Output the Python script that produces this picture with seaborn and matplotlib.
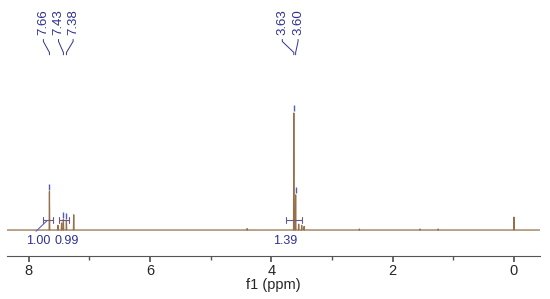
import numpy as np
import matplotlib.pyplot as plt
import matplotlib.transforms as mtransforms
import seaborn as sns
import pandas as pd

sns.set_theme(style="white")
plt.rcParams['font.family'] = ['Liberation Sans', 'DejaVu Sans']

# Spectrum peaks (ppm, relative intensity)
peak_ppm = [7.66, 7.52, 7.46, 7.43, 7.38, 7.26, 4.40, 3.63, 3.60, 3.55, 3.50, 3.46, 2.55, 1.55, 1.25, 0.00]
peak_height = [0.33, 0.04, 0.06, 0.09, 0.08, 0.13, 0.012, 1.00, 0.30, 0.05, 0.04, 0.03, 0.008, 0.008, 0.008, 0.11]

# Peak-pick labels
label_ppm = [7.66, 7.43, 7.38, 3.63, 3.60]
label_text = ['7.66', '7.43', '7.38', '3.63', '3.60']
label_x = [7.76, 7.51, 7.27, 3.82, 3.56]

# Integrals
int_start = [7.77, 7.51, 3.76]
int_end = [7.60, 7.33, 3.50]
int_value = ['1.00', '0.99', '1.39']
int_label_x = [7.85, 7.38, 3.77]

xlim = (8.36, -0.43)

# stick spectrum: baseline with each peak as a narrow spike
xs, ys = [xlim[0]], [0.0]
for p, h in sorted(zip(peak_ppm, peak_height), reverse=True):
    xs += [p + 0.005, p, p - 0.005]
    ys += [0.0, h, 0.0]
xs.append(xlim[1])
ys.append(0.0)
df = pd.DataFrame({'ppm': xs, 'intensity': ys})

fig = plt.figure(figsize=(5.5, 2.99), dpi=100)
ax = fig.add_axes([7 / 550, 43 / 299, 533 / 550, 256 / 299])

line_col = '#95704A'
blue = '#2E3192'
sns.lineplot(data=df, x='ppm', y='intensity', sort=False, color=line_col, lw=0.9, ax=ax)

ax.set_xlim(*xlim)
ax.set_ylim(-0.222, 1.966)

# peak pick markers
for p in label_ppm:
    h = peak_height[peak_ppm.index(p)]
    ax.plot([p], [h + 0.04], marker='|', color='#5060B0', ms=5, mew=1)

# peak labels with connectors
trans = mtransforms.blended_transform_factory(ax.transData, ax.transAxes)
for lx, p, t in zip(label_x, label_ppm, label_text):
    ax.text(lx, 0.862, t, rotation=90, ha='center', va='bottom', fontsize=9.5,
            color=blue, transform=trans)
    ax.plot([lx, lx, p, p], [0.846, 0.838, 0.795, 0.786], color=blue, lw=0.7,
            transform=trans, clip_on=False)

# integrals
for s, e, v, lx in zip(int_start, int_end, int_value, int_label_x):
    ax.plot([s, e], [0.085, 0.085], color='#6A5A8A', lw=0.8)
    for x in (s, e):
        ax.plot([x, x], [0.06, 0.11], color='#6A5A8A', lw=0.8)
    ax.text(lx, -0.09, v, ha='center', va='center', fontsize=9, color=blue)
ax.plot([7.88, 7.70], [-0.01, 0.08], color='#6060B0', lw=0.8)

for sp in ['top', 'left', 'right']:
    ax.spines[sp].set_visible(False)
ax.spines['bottom'].set_color('#555555')
ax.spines['bottom'].set_linewidth(0.8)
ax.set_yticks([])
ax.set_xticks([8, 6, 4, 2, 0])
ax.set_xticks([7, 5, 3, 1], minor=True)
ax.tick_params(axis='x', which='both', bottom=True, direction='out', color='#555555',
               labelsize=10.5, pad=2)
ax.tick_params(axis='x', which='major', length=4)
ax.tick_params(axis='x', which='minor', length=3)
ax.set_xlabel('f1 (ppm)', fontsize=10.5, labelpad=0)
ax.set_ylabel('')

fig.savefig('out.png', dpi=100)
